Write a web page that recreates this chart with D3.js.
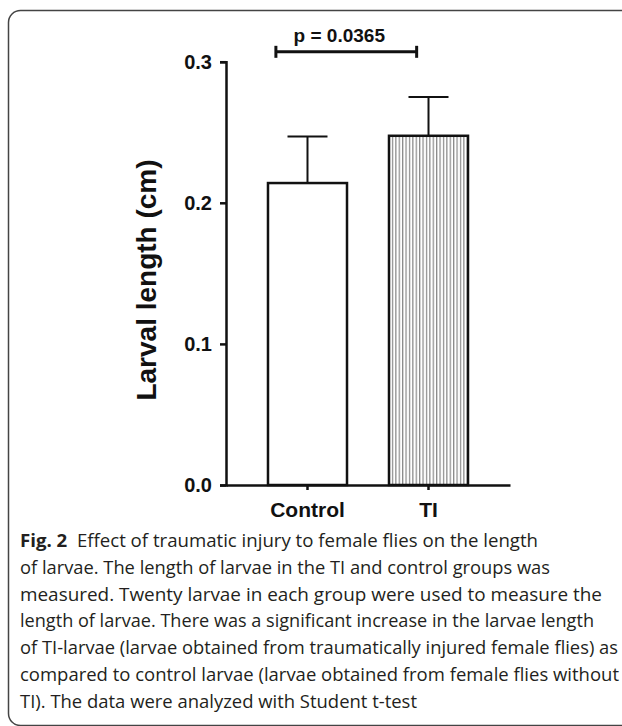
<!DOCTYPE html>
<html>
<head>
<meta charset="utf-8">
<script src="https://cdn.jsdelivr.net/npm/d3@7"></script>
<style>
  body { margin: 0; background: #fff; }
  svg { display: block; }
</style>
</head>
<body>
<svg id="chart"></svg>
<script>
// chart values
const groups = ["Control", "TI"];
const means = [0.214, 0.2475];
const errors = [0.033, 0.0275];
const yTicks = [0.0, 0.1, 0.2, 0.3];
const yLabel = "Larval length (cm)";
const pText = "p = 0.0365";
const pLevel = 0.307;

const captionBold = "Fig. 2";
const captionLines = [
  "Effect of traumatic injury to female flies on the length",
  "of larvae. The length of larvae in the TI and control groups was",
  "measured. Twenty larvae in each group were used to measure the",
  "length of larvae. There was a significant increase in the larvae length",
  "of TI-larvae (larvae obtained from traumatically injured female flies) as",
  "compared to control larvae (larvae obtained from female flies without",
  "TI). The data were analyzed with Student t-test"
];
// right end of each caption line, as measured in the figure
const captionEnds = [538, 550, 602, 594, 618, 619, 417];

var width = 622, height = 726;

var svg = d3.select("#chart")
  .attr("width", width)
  .attr("height", height);

// frame round figure + caption
svg.append("rect")
  .attr("x", 8.5).attr("y", 10.5)
  .attr("width", 700).attr("height", 715)
  .attr("rx", 12)
  .attr("fill", "none")
  .attr("stroke", "#444")
  .attr("stroke-width", 1.5);

// hatch for the TI bar
var defs = svg.append("defs");
defs.append("pattern")
  .attr("id", "vhatch")
  .attr("patternUnits", "userSpaceOnUse")
  .attr("width", 3.4).attr("height", 10)
  .append("line")
  .attr("x1", 1.5).attr("x2", 1.5)
  .attr("y1", 0).attr("y2", 10)
  .attr("stroke", "#7a7a7a")
  .attr("stroke-width", 1.1);

var y = d3.scaleLinear().domain([0, 0.3]).range([485, 61.7]);
var x = d3.scaleBand().domain(groups).range([226, 510]).padding(0.347);

var g = svg.append("g");

// bars
g.selectAll("rect.bar")
  .data(groups)
  .enter()
  .append("rect")
  .attr("class", "bar")
  .attr("x", d => x(d))
  .attr("y", (d, i) => y(means[i]))
  .attr("width", x.bandwidth())
  .attr("height", (d, i) => y(0) - y(means[i]))
  .attr("fill", (d, i) => i == 1 ? "url(#vhatch)" : "#fff")
  .attr("stroke", "#111")
  .attr("stroke-width", 2.5);

// upper error bars
var eb = g.selectAll("g.err")
  .data(groups)
  .enter()
  .append("g")
  .attr("class", "err")
  .attr("stroke", "#111")
  .attr("stroke-width", 2);

eb.append("line")
  .attr("x1", d => x(d) + x.bandwidth() / 2)
  .attr("x2", d => x(d) + x.bandwidth() / 2)
  .attr("y1", (d, i) => y(means[i]))
  .attr("y2", (d, i) => y(means[i] + errors[i]));

eb.append("line")
  .attr("x1", d => x(d) + x.bandwidth() / 2 - 20)
  .attr("x2", d => x(d) + x.bandwidth() / 2 + 20)
  .attr("y1", (d, i) => y(means[i] + errors[i]))
  .attr("y2", (d, i) => y(means[i] + errors[i]));

// y axis
var yAxis = g.append("g")
  .attr("transform", "translate(226,0)")
  .call(d3.axisLeft(y).tickValues(yTicks).tickFormat(d3.format(".1f")).tickSize(6).tickPadding(8));

// x axis
var xAxis = g.append("g")
  .attr("transform", "translate(0,485)")
  .call(d3.axisBottom(x).tickSize(5).tickSizeOuter(0).tickPadding(12));

[yAxis, xAxis].forEach(function(a) {
  a.selectAll("path, line").attr("stroke", "#111").attr("stroke-width", 2.5);
  a.selectAll("text")
    .attr("fill", "#111")
    .attr("font-family", "Liberation Sans, Arial, sans-serif")
    .attr("font-weight", "bold");
});
yAxis.selectAll("text").attr("font-size", 20);
xAxis.selectAll("text").attr("font-size", 21);

// y label
g.append("text")
  .attr("transform", "translate(156,280) rotate(-90)")
  .attr("text-anchor", "middle")
  .attr("font-family", "Liberation Sans, Arial, sans-serif")
  .attr("font-weight", "bold")
  .attr("font-size", 28)
  .attr("fill", "#111")
  .text(yLabel);

// significance bracket
var bx0 = x("Control") + x.bandwidth() * 0.1;
var bx1 = x("TI") + x.bandwidth() * 0.35;
var by = y(pLevel);
var br = g.append("g").attr("stroke", "#111").attr("stroke-width", 3);
br.append("line").attr("x1", bx0).attr("x2", bx1).attr("y1", by).attr("y2", by);
br.append("line").attr("x1", bx0).attr("x2", bx0).attr("y1", by - 6).attr("y2", by + 6);
br.append("line").attr("x1", bx1).attr("x2", bx1).attr("y1", by - 6).attr("y2", by + 6);

g.append("text")
  .attr("x", (bx0 + bx1) / 2 - 7)
  .attr("y", by - 10)
  .attr("text-anchor", "middle")
  .attr("font-family", "Liberation Sans, Arial, sans-serif")
  .attr("font-weight", "bold")
  .attr("font-size", 19)
  .attr("fill", "#111")
  .text(pText);

// caption
var capX = 20;
var cap = svg.append("g")
  .attr("font-family", "Open Sans, Noto Sans, sans-serif")
  .attr("font-size", 18.5)
  .attr("fill", "#231f20");

cap.selectAll("text")
  .data(captionLines)
  .enter()
  .append("text")
  .attr("x", capX)
  .attr("y", (d, i) => 547 + i * 26.8)
  .attr("textLength", (d, i) => captionEnds[i] - capX)
  .attr("lengthAdjust", "spacingAndGlyphs")
  .each(function(d, i) {
    var t = d3.select(this);
    if (i == 0) {
      t.append("tspan").attr("font-weight", "bold").text(captionBold + "\u00a0\u00a0");
    }
    t.append("tspan").text(d);
  });
</script>
</body>
</html>
